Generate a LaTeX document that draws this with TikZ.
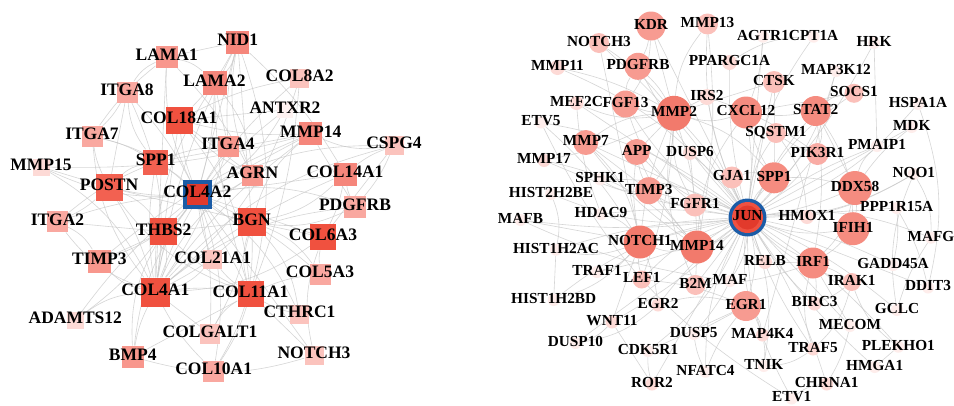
\documentclass[tikz,border=0pt]{standalone}
\usepackage{fontspec}
\setmainfont{Liberation Serif}
\pgfdeclarelayer{background}
\pgfdeclarelayer{fore}
\pgfsetlayers{background,main,fore}
\definecolor{cA}{HTML}{F0513F}
\definecolor{cAb}{HTML}{F26151}
\definecolor{cB}{HTML}{F5867B}
\definecolor{cC}{HTML}{F8978D}
\definecolor{cD}{HTML}{F9A8A0}
\definecolor{cE}{HTML}{FBC3BD}
\definecolor{cF}{HTML}{FDDAD6}
\definecolor{cG}{HTML}{FEF2F1}
\definecolor{cRa}{HTML}{F27A6C}
\definecolor{cRb}{HTML}{F58C80}
\definecolor{cRc}{HTML}{F79B91}
\definecolor{cRd}{HTML}{F9ACA5}
\definecolor{cRe}{HTML}{FBC0BA}
\definecolor{cRf}{HTML}{FDDAD6}
\definecolor{cRg}{HTML}{FEEDEB}
\definecolor{hubblue}{HTML}{1B5CA6}
\definecolor{hubred}{HTML}{E23A2C}
\definecolor{hubred2}{HTML}{EE5141}
\definecolor{edgegray}{HTML}{C8C8C8}
\tikzset{
  sqn/.style={rectangle, draw=none, inner sep=0pt},
  cin/.style={circle, draw=none, inner sep=0pt},
  ltxt/.style={inner sep=0pt, text height=0.66em, text depth=0pt, font=\bfseries\fontsize{17.5}{18}\selectfont},
  rtxt/.style={inner sep=0pt, text height=0.66em, text depth=0pt, font=\bfseries\fontsize{15.3}{16}\selectfont},
  lnk/.style={draw=edgegray, line width=0.6pt, opacity=0.75},
}
\newcommand\SqN[6]{\node[sqn,minimum size=#4pt,fill=#5] (#1) at (#2,#3) {};\begin{pgfonlayer}{fore}\node[ltxt] (#1t) at (#2,#3) {#6};\end{pgfonlayer}}
\newcommand\CiN[6]{\node[cin,minimum size=#4pt,fill=#5] (#1) at (#2,#3) {};\begin{pgfonlayer}{fore}\node[rtxt] (#1t) at (#2,#3) {#6};\end{pgfonlayer}}
\begin{document}
\begin{tikzpicture}[x=1pt,y=-1pt]
\begin{pgfonlayer}{background}
\fill[white] (0,0) rectangle (954,405);
\end{pgfonlayer}
\useasboundingbox (0,0) rectangle (954,405);
% ---------------- left network ----------------
\SqN{lNID1}{237.7}{42}{23}{cB}{NID1}
\SqN{lLAMA1}{166.7}{57}{22}{cC}{LAMA1}
\SqN{lLAMA2}{214.5}{83}{24}{cB}{LAMA2}
\SqN{lCOL8A2}{299.7}{78}{19}{cE}{COL8A2}
\SqN{lANTXR2}{285}{110}{16}{cG}{ANTXR2}
\SqN{lMMP14}{310.8}{133.7}{23}{cB}{MMP14}
\SqN{lCSPG4}{394}{145.5}{19}{cE}{CSPG4}
\SqN{lITGA8}{127}{92}{21}{cD}{ITGA8}
\SqN{lCOL18A1}{179}{120}{27}{cA}{COL18A1}
\SqN{lITGA7}{92}{136}{21}{cD}{ITGA7}
\SqN{lITGA4}{228}{146}{21}{cC}{ITGA4}
\SqN{lMMP15}{41}{167}{17}{cF}{MMP15}
\SqN{lSPP1}{155.7}{162}{25}{cAb}{SPP1}
\SqN{lPOSTN}{109}{187.5}{27}{cAb}{POSTN}
\node[sqn,minimum size=29pt,fill=hubblue] (lCOL4A2) at (197.3,194.5) {};
\node[sqn,minimum size=21pt,fill=hubred] (lCOL4A2i) at (197.3,194.5) {};
\begin{pgfonlayer}{fore}\node[ltxt] (lCOL4A2t) at (197.3,194.5) {COL4A2};\end{pgfonlayer}
\SqN{lAGRN}{252.5}{175.5}{21}{cC}{AGRN}
\SqN{lCOL14A1}{345}{174}{23}{cB}{COL14A1}
\SqN{lPDGFRB}{355}{207}{22}{cD}{PDGFRB}
\SqN{lITGA2}{57.5}{221.7}{21}{cD}{ITGA2}
\SqN{lTHBS2}{163.7}{231.7}{27}{cA}{THBS2}
\SqN{lBGN}{251.7}{222}{28}{cA}{BGN}
\SqN{lCOL6A3}{323}{237.3}{26}{cA}{COL6A3}
\SqN{lTIMP3}{99.3}{261}{23}{cC}{TIMP3}
\SqN{lCOL21A1}{212.7}{259.7}{19}{cE}{COL21A1}
\SqN{lCOL5A3}{320}{274}{21}{cD}{COL5A3}
\SqN{lCOL4A1}{155.3}{292}{29}{cA}{COL4A1}
\SqN{lCOL11A1}{250.5}{293.8}{26}{cA}{COL11A1}
\SqN{lCTHRC1}{299.5}{314.5}{19}{cE}{CTHRC1}
\SqN{lADAMTS12}{75.3}{320}{17}{cF}{ADAMTS12}
\SqN{lCOLGALT1}{210}{334}{20}{cE}{COLGALT1}
\SqN{lBMP4}{132.8}{356.7}{22}{cC}{BMP4}
\SqN{lNOTCH3}{314}{355.3}{19}{cE}{NOTCH3}
\SqN{lCOL10A1}{213.7}{371.3}{21}{cD}{COL10A1}
% ---------------- right network ----------------
\CiN{rKDR}{651}{26}{29}{cRc}{KDR}
\CiN{rMMP13}{707.5}{24}{21}{cRe}{MMP13}
\CiN{rAGTR1}{763}{36.7}{12}{cRg}{AGTR1}
\CiN{rCPT1A}{813.6}{36.7}{12}{cRg}{CPT1A}
\CiN{rHRK}{874}{43}{12}{cRg}{HRK}
\CiN{rNOTCH3}{599}{43}{20}{cRe}{NOTCH3}
\CiN{rPPARGC1A}{729.5}{62.5}{15}{cRf}{PPARGC1A}
\CiN{rMAP3K12}{836}{71}{12}{cRg}{MAP3K12}
\CiN{rPDGFRB}{638}{66.3}{27}{cRc}{PDGFRB}
\CiN{rMMP11}{557.5}{67.5}{15}{cRf}{MMP11}
\CiN{rCTSK}{774}{82}{22}{cRe}{CTSK}
\CiN{rSOCS1}{854}{93.3}{19}{cRe}{SOCS1}
\CiN{rMEF2C}{576.5}{103}{14}{cRf}{MEF2C}
\CiN{rFGF13}{625.5}{104}{27}{cRc}{FGF13}
\CiN{rMMP2}{674}{113.3}{35}{cRa}{MMP2}
\CiN{rIRS2}{707}{97}{16}{cRf}{IRS2}
\CiN{rCXCL12}{746}{112.5}{32}{cRb}{CXCL12}
\CiN{rSTAT2}{815.7}{111}{30}{cRb}{STAT2}
\CiN{rHSPA1A}{918}{104}{12}{cRg}{HSPA1A}
\CiN{rETV5}{541}{122.5}{12}{cRg}{ETV5}
\CiN{rMDK}{911.7}{127}{12}{cRg}{MDK}
\CiN{rMMP7}{585.8}{142.5}{25}{cRc}{MMP7}
\CiN{rAPP}{636.7}{152}{26}{cRc}{APP}
\CiN{rDUSP6}{690}{153}{14}{cRf}{DUSP6}
\CiN{rSQSTM1}{776}{133}{20}{cRe}{SQSTM1}
\CiN{rPIK3R1}{817.5}{154}{22}{cRd}{PIK3R1}
\CiN{rPMAIP1}{877}{146}{12}{cRg}{PMAIP1}
\CiN{rMMP17}{544}{160.5}{13}{cRf}{MMP17}
\CiN{rSPHK1}{600}{179.3}{12}{cRg}{SPHK1}
\CiN{rGJA1}{732}{177.5}{22}{cRe}{GJA1}
\CiN{rSPP1}{774}{177.8}{31}{cRb}{SPP1}
\CiN{rNQO1}{913.8}{174}{12}{cRg}{NQO1}
\CiN{rDDX58}{855}{188}{34}{cRb}{DDX58}
\CiN{rHISTtwoBE}{551}{194}{12}{cRg}{HIST2H2BE}
\CiN{rTIMP3}{648.8}{190.7}{27}{cRc}{TIMP3}
\CiN{rFGFR1}{695}{205}{23}{cRe}{FGFR1}
\node[cin,minimum size=38pt,fill=hubblue] (rJUN) at (747.5,217.5) {};
\node[cin,minimum size=31pt,fill=hubred2] (rJUNa) at (747.5,217.5) {};
\node[cin,minimum size=24pt,fill=hubred] (rJUNb) at (747.5,217.5) {};
\begin{pgfonlayer}{fore}\node[rtxt] (rJUNt) at (747.5,217.5) {JUN};\end{pgfonlayer}
\CiN{rHDAC9}{601}{214}{12}{cRg}{HDAC9}
\CiN{rMAFB}{520.5}{220}{12}{cRg}{MAFB}
\CiN{rHMOX1}{807}{217}{14}{cRf}{HMOX1}
\CiN{rPPP1R15A}{896.7}{208}{12}{cRg}{PPP1R15A}
\CiN{rIFIH1}{853}{228.7}{33}{cRb}{IFIH1}
\CiN{rMAFG}{931}{237.7}{12}{cRg}{MAFG}
\CiN{rNOTCH1}{640}{242}{33}{cRa}{NOTCH1}
\CiN{rMMP14}{697}{247}{33}{cRa}{MMP14}
\CiN{rHISToneAC}{556}{249.7}{12}{cRg}{HIST1H2AC}
\CiN{rRELB}{765}{262}{14}{cRf}{RELB}
\CiN{rIRF1}{813}{263}{31}{cRb}{IRF1}
\CiN{rGADD45A}{893}{265}{12}{cRg}{GADD45A}
\CiN{rTRAF1}{597}{272}{12}{cRg}{TRAF1}
\CiN{rLEF1}{641.7}{279.5}{18}{cRe}{LEF1}
\CiN{rMAF}{730}{281}{12}{cRg}{MAF}
\CiN{rB2M}{695.5}{285}{20}{cRe}{B2M}
\CiN{rIRAK1}{851.7}{282}{18}{cRe}{IRAK1}
\CiN{rDDIT3}{928}{287.5}{12}{cRg}{DDIT3}
\CiN{rHISToneBD}{553.7}{300}{12}{cRg}{HIST1H2BD}
\CiN{rEGR2}{658}{305}{13}{cRf}{EGR2}
\CiN{rEGR1}{746}{306}{30}{cRc}{EGR1}
\CiN{rBIRC3}{814.5}{303.5}{14}{cRf}{BIRC3}
\CiN{rGCLC}{897}{310}{12}{cRg}{GCLC}
\CiN{rWNT11}{612}{322}{13}{cRf}{WNT11}
\CiN{rMECOM}{850}{326}{12}{cRg}{MECOM}
\CiN{rMAP4K4}{762.5}{335}{13}{cRf}{MAP4K4}
\CiN{rDUSP5}{693.7}{334}{12}{cRg}{DUSP5}
\CiN{rDUSP10}{575.5}{343}{12}{cRg}{DUSP10}
\CiN{rPLEKHO1}{898.3}{346.7}{12}{cRg}{PLEKHO1}
\CiN{rTRAF5}{813}{349}{13}{cRf}{TRAF5}
\CiN{rCDK5R1}{648}{351}{12}{cRg}{CDK5R1}
\CiN{rTNIK}{763.8}{366}{12}{cRg}{TNIK}
\CiN{rHMGA1}{874.7}{367}{12}{cRg}{HMGA1}
\CiN{rNFATC4}{705.5}{371.7}{12}{cRg}{NFATC4}
\CiN{rROR2}{652}{384}{13}{cRf}{ROR2}
\CiN{rCHRNA1}{826.7}{384}{13}{cRf}{CHRNA1}
\CiN{rETV1}{791.7}{398.5}{12}{cRg}{ETV1}
% ---------------- edges ----------------
\begin{pgfonlayer}{background}
\foreach \b [count=\i] in {lNID1,lLAMA1,lLAMA2,lCOL8A2,lANTXR2,lMMP14,lCSPG4,lITGA8,lCOL18A1,lITGA7,lITGA4,lMMP15,lSPP1,lPOSTN,lAGRN,lCOL14A1,lPDGFRB,lITGA2,lTHBS2,lBGN,lCOL6A3,lTIMP3,lCOL21A1,lCOL5A3,lCOL4A1,lCOL11A1,lCTHRC1,lADAMTS12,lCOLGALT1,lBMP4,lNOTCH3,lCOL10A1}
 {\pgfmathtruncatemacro\bd{mod(\i*7,5)*7-14}\draw[lnk] (lCOL4A2) to[bend left=\bd] (\b);}
\foreach \a/\b [count=\i] in {lNID1/lLAMA1,lNID1/lLAMA2,lNID1/lCOL4A1,lNID1/lCOL18A1,lNID1/lAGRN,lNID1/lBGN,lNID1/lCOL11A1,lNID1/lITGA4,lNID1/lCOL14A1,
 lLAMA1/lITGA8,lLAMA1/lCOL4A1,lLAMA1/lLAMA2,lLAMA1/lITGA7,lLAMA1/lAGRN,lLAMA2/lCOL4A1,lLAMA2/lITGA4,lLAMA2/lAGRN,lLAMA2/lCOL11A1,
 lITGA8/lITGA7,lITGA8/lSPP1,lITGA8/lPOSTN,lITGA8/lCOL4A1,lITGA7/lPOSTN,lITGA7/lSPP1,lITGA7/lCOL4A1,lMMP15/lPOSTN,lMMP15/lCOL4A1,lMMP15/lMMP14,
 lITGA2/lSPP1,lITGA2/lCOL4A1,lITGA2/lTHBS2,lITGA2/lTIMP3,lITGA2/lPOSTN,lTIMP3/lMMP14,lTIMP3/lCOL4A1,lTIMP3/lTHBS2,lADAMTS12/lCOL4A1,lADAMTS12/lTHBS2,
 lBMP4/lCOL4A1,lBMP4/lNOTCH3,lBMP4/lCOL11A1,lBMP4/lTHBS2,lCOL10A1/lCOL11A1,lCOL10A1/lCOL4A1,lCOL10A1/lBGN,lCOLGALT1/lCOL4A1,lCOLGALT1/lCOL11A1,lCOLGALT1/lBGN,
 lCTHRC1/lCOL11A1,lCTHRC1/lBGN,lNOTCH3/lCOL11A1,lNOTCH3/lCOL6A3,lCOL5A3/lCOL11A1,lCOL5A3/lCOL6A3,lCOL5A3/lBGN,lCOL6A3/lBGN,lCOL6A3/lCOL4A1,lCOL6A3/lCOL14A1,
 lPDGFRB/lCOL14A1,lPDGFRB/lCOL4A1,lPDGFRB/lMMP14,lPDGFRB/lBGN,lCSPG4/lCOL14A1,lCSPG4/lPDGFRB,lCSPG4/lCOL4A1,lCSPG4/lCOL6A3,lCSPG4/lMMP14,
 lMMP14/lCOL4A1,lMMP14/lCOL18A1,lMMP14/lBGN,lMMP14/lSPP1,lCOL8A2/lCOL4A1,lCOL8A2/lCOL18A1,lCOL8A2/lCOL11A1,lANTXR2/lCOL4A1,lANTXR2/lCOL18A1,
 lCOL14A1/lBGN,lCOL14A1/lCOL4A1,lBGN/lCOL4A1,lBGN/lCOL11A1,lBGN/lTHBS2,lTHBS2/lCOL4A1,lTHBS2/lCOL11A1,lPOSTN/lCOL4A1,lPOSTN/lCOL11A1,lPOSTN/lBGN,lPOSTN/lTHBS2,
 lSPP1/lCOL4A1,lSPP1/lITGA4,lSPP1/lPOSTN,lCOL18A1/lCOL4A1,lCOL18A1/lCOL11A1,lCOL18A1/lAGRN,lITGA4/lCOL4A1,lAGRN/lCOL4A1,lAGRN/lCOL18A1,lCOL21A1/lCOL4A1,lCOL21A1/lCOL11A1,lCOL4A1/lCOL11A1}
 {\pgfmathtruncatemacro\bd{mod(\i*7,5)*8-16}\draw[lnk] (\a) to[bend left=\bd] (\b);}
% right
\foreach \b [count=\i] in {rKDR,rMMP13,rNOTCH3,rPDGFRB,rMMP11,rMEF2C,rFGF13,rMMP2,rIRS2,rETV5,rMMP7,rAPP,rDUSP6,rMMP17,rSPHK1,rTIMP3,rHISTtwoBE,rHDAC9,rMAFB,rFGFR1,rNOTCH1,rMMP14,rHISToneAC,rTRAF1,rLEF1,rB2M,rMAF,rRELB,rHMOX1,rIFIH1,rPPP1R15A,rMAFG,rIRF1,rGADD45A,rIRAK1,rDDIT3,rEGR1,rBIRC3,rGCLC,rMAP4K4,rMECOM,rDUSP5,rEGR2,rWNT11,rHISToneBD,rDUSP10,rCDK5R1,rTRAF5,rPLEKHO1,rNFATC4,rROR2,rTNIK,rHMGA1,rCHRNA1,rETV1,rAGTR1,rCPT1A,rHRK,rPPARGC1A,rMAP3K12,rCTSK,rSOCS1,rCXCL12,rSTAT2,rHSPA1A,rMDK,rSQSTM1,rPIK3R1,rPMAIP1,rNQO1,rGJA1,rSPP1,rDDX58}
 {\pgfmathtruncatemacro\bd{mod(\i*7,5)*7-14}\draw[lnk] (rJUN) to[bend left=\bd] (\b);}
\foreach \a/\b [count=\i] in {rMMP2/rKDR,rMMP2/rMMP13,rMMP2/rPDGFRB,rMMP2/rFGF13,rMMP2/rMMP7,rMMP2/rAPP,rMMP2/rTIMP3,rMMP2/rNOTCH1,rMMP2/rMMP14,rMMP2/rCXCL12,rMMP2/rCTSK,rMMP2/rSPP1,rMMP2/rMMP11,rMMP2/rMMP17,rMMP2/rFGFR1,rMMP2/rIRS2,rMMP2/rMEF2C,rMMP2/rNOTCH3,rMMP2/rLEF1,rMMP2/rB2M,
 rMMP14/rTIMP3,rMMP14/rNOTCH1,rMMP14/rMMP13,rMMP14/rMMP7,rMMP14/rMMP17,rMMP14/rB2M,rMMP14/rCXCL12,rMMP14/rSPP1,rMMP14/rAPP,rMMP14/rFGFR1,
 rNOTCH1/rNOTCH3,rNOTCH1/rHISToneAC,rNOTCH1/rLEF1,rNOTCH1/rEGR2,rNOTCH1/rHDAC9,rNOTCH1/rMAFB,rNOTCH1/rTRAF1,rNOTCH1/rETV5,rNOTCH1/rAPP,rNOTCH1/rMMP7,rNOTCH1/rWNT11,rNOTCH1/rHISToneBD,
 rIFIH1/rDDX58,rIFIH1/rIRF1,rIFIH1/rSTAT2,rDDX58/rSTAT2,rDDX58/rIRF1,rIRF1/rSTAT2,rIRF1/rBIRC3,rIRF1/rTRAF5,rIRF1/rRELB,rIRAK1/rTRAF5,rIRAK1/rIRF1,rIRAK1/rBIRC3,
 rSOCS1/rSTAT2,rSOCS1/rCXCL12,rSTAT2/rPIK3R1,rPIK3R1/rIRS2,rPIK3R1/rSQSTM1,rPMAIP1/rDDX58,rHRK/rPMAIP1,rHSPA1A/rDDIT3,rMDK/rDDX58,rNQO1/rHMOX1,
 rEGR1/rEGR2,rEGR1/rDUSP5,rEGR1/rMAP4K4,rEGR1/rNFATC4,rMAP4K4/rTNIK,rTNIK/rTRAF5,rWNT11/rROR2,rWNT11/rDUSP10,rCDK5R1/rROR2,rNFATC4/rDUSP5,rCHRNA1/rETV1,rHMGA1/rPLEKHO1,rGCLC/rNQO1,
 rGADD45A/rPPP1R15A,rPPP1R15A/rDDIT3,rMAFG/rNQO1,rHISToneBD/rHISToneAC,rHISTtwoBE/rHISToneAC,rMAFB/rMAF,rHDAC9/rMEF2C,rSPHK1/rTIMP3,rDUSP6/rFGFR1,rFGFR1/rFGF13,rAPP/rTIMP3,
 rKDR/rPDGFRB,rPDGFRB/rFGF13,rCTSK/rSPP1,rGJA1/rSPP1,rCXCL12/rSPP1,rAGTR1/rCXCL12,rCPT1A/rPPARGC1A,rMAP3K12/rMAP4K4,rETV1/rETV5,rCHRNA1/rMECOM,rGCLC/rMAFG,
 rTIMP3/rFGFR1,rMMP7/rTIMP3,rKDR/rFGF13,rCXCL12/rSTAT2,rSPP1/rDDX58,rHMOX1/rSQSTM1,rMECOM/rIRF1,rPLEKHO1/rIRAK1,rB2M/rIRF1,rLEF1/rEGR1,rDUSP10/rEGR2,rCDK5R1/rEGR1}
 {\pgfmathtruncatemacro\bd{mod(\i*7,5)*8-16}\draw[lnk] (\a) to[bend left=\bd] (\b);}
\end{pgfonlayer}
\end{tikzpicture}
\end{document}
